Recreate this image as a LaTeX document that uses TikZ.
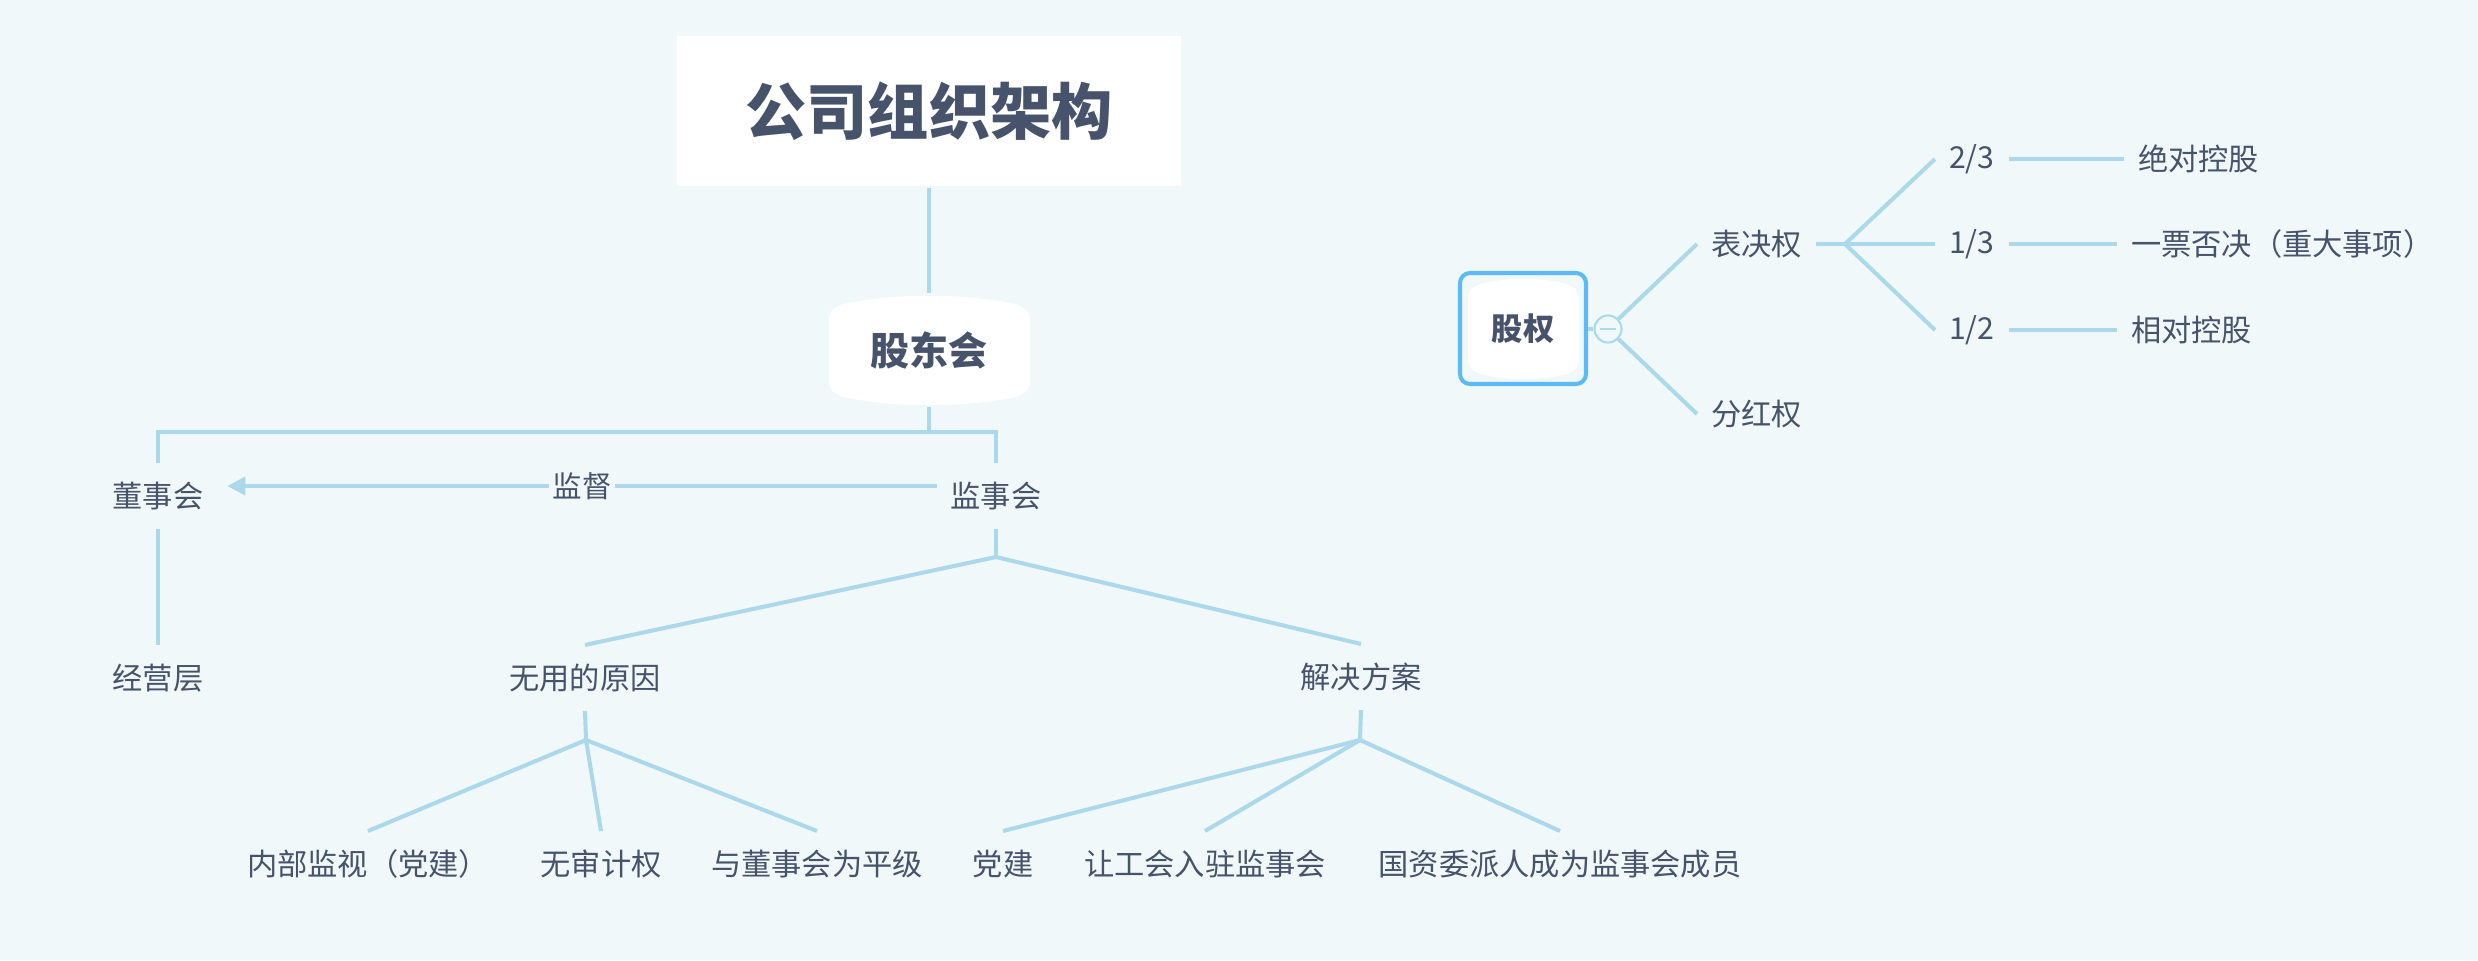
\documentclass[tikz,border=0pt]{standalone}
\usepackage{fontspec}
\setmainfont{Noto Sans CJK SC}
\usetikzlibrary{arrows.meta}
\definecolor{bgcol}{HTML}{F0F8FA}
\definecolor{linecol}{HTML}{ABD8EA}
\definecolor{textcol}{HTML}{46536A}
\definecolor{selcol}{HTML}{5CBAF6}

\begin{document}
\begin{tikzpicture}[
  x=0.01cm, y=-0.01cm,
  line width=1.15pt,
  topic/.style={
    text=textcol,
    font=\fontsize{8.6pt}{10pt}\selectfont,
    inner xsep=0.12cm,
    inner ysep=0pt,
    minimum height=0.62cm
  },
  branch/.style={
    draw=linecol,
    line width=1.15pt
  }
]
\useasboundingbox (0,0) rectangle (2478,960);
\fill[bgcol] (0,0) rectangle (2478,960);
% central topics
\node[fill=white, text=textcol, minimum width=5.04cm, minimum height=1.5cm,
  font=\fontsize{17.4pt}{20pt}\selectfont\bfseries] (title) at (929,111) {公司组织架构};
\fill[white] (829,320) .. controls (829,311) and (833,308) .. (843,304)
  .. controls (895,293) and (963,293) .. (1016,304)
  .. controls (1026,308) and (1030,311) .. (1030,320) -- (1030,381)
  .. controls (1030,390) and (1026,393) .. (1016,397)
  .. controls (963,408) and (895,408) .. (843,397)
  .. controls (833,393) and (829,390) .. (829,381) -- cycle;
\node[text=textcol, minimum width=2.01cm, minimum height=1.09cm,
  font=\fontsize{11.1pt}{13pt}\selectfont\bfseries] (gdh) at (929,350) {股东会};
% board level
\node[topic] (dsh) at (158,496) {董事会};
\node[topic] (jsh) at (996,496) {监事会};
\node[topic] (jyc) at (158,678) {经营层};
\node[topic] (wyy) at (585,678) {无用的原因};
\node[topic] (jjfa) at (1361,677) {解决方案};
\node[topic, anchor=north] (wy1) at (368,831) {内部监视（党建）};
\node[topic, anchor=north] (wy2) at (601,831) {无审计权};
\node[topic, anchor=north] (wy3) at (817,831) {与董事会为平级};
\node[topic, anchor=north] (jj1) at (1003,831) {党建};
\node[topic, anchor=north] (jj2) at (1205,831) {让工会入驻监事会};
\node[topic, anchor=north] (jj3) at (1560,831) {国资委派人成为监事会成员};
\coordinate (bus) at (929,432);
\coordinate (jroot) at (996,557);
\coordinate (wroot) at (586,740);
\coordinate (jjroot) at (1360,740);
\draw[branch] (title.south) -- (gdh.north);
\draw[branch] (gdh.south) -- (bus);
\draw[branch] (dsh.north) |- (bus) -| (jsh.north);
\draw[branch] (dsh.south) -- (jyc.north);
\draw[branch] (jsh.south) -- (jroot);
\draw[branch] (jroot) -- (wyy.north);
\draw[branch] (jroot) -- (jjfa.north);
\draw[branch] (wyy.south) -- (wroot);
\draw[branch] (jjfa.south) -- (jjroot);
\draw[branch] (wroot) -- (wy1.north);
\draw[branch] (wroot) -- (wy2.north);
\draw[branch] (wroot) -- (wy3.north);
\draw[branch] (jjroot) -- (jj1.north);
\draw[branch] (jjroot) -- (jj2.north);
\draw[branch] (jjroot) -- (jj3.north);
\draw[branch, -{Triangle[length=0.18cm,width=0.18cm]}]
  ([yshift=0.1cm]jsh.west) -- ([xshift=0.1cm,yshift=0.1cm]dsh.east)
  node[midway, fill=bgcol, inner sep=1pt, text=textcol,
    font=\fontsize{8.4pt}{10pt}\selectfont] (jd) {监督};
% equity tree
\filldraw[fill=bgcol, draw=selcol, line width=1.15pt, rounded corners=0.1cm]
  (1460,273) rectangle (1586,384);
\fill[white] (1468,300) .. controls (1468,290) and (1472,287) .. (1481,284)
  .. controls (1505,277) and (1543,277) .. (1566,284)
  .. controls (1575,287) and (1579,290) .. (1579,300) -- (1579,358)
  .. controls (1579,368) and (1575,371) .. (1566,374)
  .. controls (1543,381) and (1505,381) .. (1481,374)
  .. controls (1472,371) and (1468,368) .. (1468,358) -- cycle;
\node[text=textcol, minimum width=1.26cm, minimum height=1.11cm,
  font=\fontsize{8.9pt}{10pt}\selectfont\bfseries] (gq) at (1523,329) {股权};
\node[circle, draw=linecol, fill=bgcol, line width=0.6pt, minimum size=0.27cm,
  inner sep=0pt] (fold) at (1608,329) {};
\draw[linecol, line width=0.6pt] ([xshift=-0.08cm]fold.center) -- ([xshift=0.08cm]fold.center);
\node[topic, anchor=west] (bjq) at (1697,244) {表决权};
\node[topic, anchor=west] (fhq) at (1697,414) {分红权};
\node[topic, anchor=west] (n23) at (1935,159) {2/3};
\node[topic, anchor=west] (n13) at (1935,244) {1/3};
\node[topic, anchor=west] (n12) at (1935,330) {1/2};
\node[topic, anchor=west] (k23) at (2124,159) {绝对控股};
\node[topic, anchor=west] (k13) at (2117,244) {一票否决（重大事项）};
\node[topic, anchor=west] (k12) at (2117,330) {相对控股};
\coordinate (broot) at (1845,244);
\draw[branch] (gq.east) -- (fold);
\draw[branch] (fold) -- (bjq.west);
\draw[branch] (fold) -- (fhq.west);
\draw[branch] (bjq.east) -- (broot);
\draw[branch] (broot) -- (n23.west);
\draw[branch] (broot) -- (n13.west);
\draw[branch] (broot) -- (n12.west);
\draw[branch] (n23.east) -- (k23.west);
\draw[branch] (n13.east) -- (k13.west);
\draw[branch] (n12.east) -- (k12.west);
\end{tikzpicture}
\end{document}
